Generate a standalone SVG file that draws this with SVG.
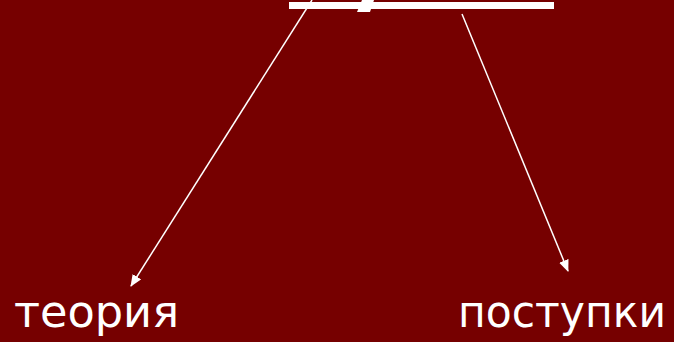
<svg xmlns="http://www.w3.org/2000/svg" width="674" height="342" viewBox="0 0 674 342">
<defs>
<style>
.lbl{font-family:"DejaVu Sans",Verdana,sans-serif;font-size:44px;fill:#ffffff}
.con{stroke:#ffffff;stroke-width:1.5;fill:none}
</style>
<marker id="ah" markerWidth="12" markerHeight="10" refX="11" refY="5" orient="auto" markerUnits="userSpaceOnUse">
<path d="M0,0 L12,5 L0,10 Z" fill="#ffffff"/>
</marker>
</defs>
<rect x="0" y="0" width="674" height="342" fill="#760000"/>
<g id="top">
<rect x="289" y="2" width="265" height="7" fill="#ffffff"/>
<polygon points="362,0 374,0 370,12 357,12" fill="#ffffff"/>
</g>
<g id="connectors">
<line class="con" x1="312" y1="0" x2="131" y2="286" marker-end="url(#ah)"/>
<line class="con" x1="462" y1="14" x2="568" y2="271" marker-end="url(#ah)"/>
</g>
<g id="n1"><text class="lbl" x="14" y="327" textLength="165" lengthAdjust="spacingAndGlyphs">теория</text></g>
<g id="n2"><text class="lbl" x="458" y="327" textLength="208" lengthAdjust="spacingAndGlyphs">поступки</text></g>
</svg>
